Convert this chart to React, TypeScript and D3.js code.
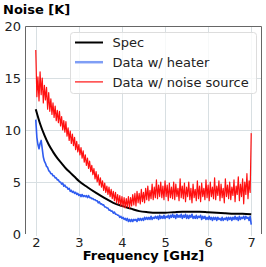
import React, { useRef, useEffect } from "react";
import * as d3 from "d3";

// sample grid of the measured traces (GHz)
const dataFreq = d3.range(0, 201).map((i) => +(2 + i * 0.025).toFixed(3));

// "Data w/ noise source" (red), K
const noiseSource = [
  17.7, 13.2, 15.1, 12.8, 15.6, 13.4, 15.0, 12.6, 14.3, 12.9,
  14.1, 12.0, 13.6, 11.8, 13.0, 11.5, 12.6, 11.2, 12.3, 10.9,
  11.9, 10.7, 11.8, 10.4, 11.3, 10.0, 10.9, 9.8, 10.8, 9.4,
  10.2, 9.0, 9.9, 8.7, 9.6, 8.5, 9.3, 8.1, 8.9, 7.9,
  8.6, 7.6, 8.3, 7.3, 8.0, 6.9, 7.6, 6.6, 7.3, 6.3,
  7.0, 6.0, 6.6, 5.7, 6.3, 5.3, 6.0, 5.0, 5.7, 4.7,
  5.4, 4.5, 5.1, 4.2, 4.9, 4.0, 4.6, 3.8, 4.5, 3.6,
  4.3, 3.4, 4.1, 3.2, 4.0, 3.0, 3.8, 2.9, 3.7, 2.7,
  3.6, 2.6, 3.5, 2.5, 3.4, 2.6, 3.6, 2.5, 3.5, 2.7,
  3.8, 2.8, 3.9, 2.7, 4.1, 3.0, 3.9, 2.9, 4.3, 3.1,
  4.0, 3.0, 4.4, 3.3, 4.6, 3.2, 4.2, 3.4, 4.8, 3.3,
  4.5, 3.5, 5.2, 3.4, 4.7, 3.6, 5.0, 3.5, 4.6, 3.3,
  5.1, 3.6, 4.7, 3.2, 4.9, 3.5, 4.5, 3.4, 5.0, 3.3,
  4.8, 3.6, 4.4, 3.2, 5.3, 3.5, 4.6, 3.4, 4.9, 3.1,
  4.5, 3.6, 5.0, 3.3, 4.4, 3.0, 4.8, 3.5, 4.3, 3.2,
  5.1, 3.4, 4.6, 3.1, 4.9, 3.6, 4.4, 3.3, 5.2, 3.5,
  4.7, 3.2, 5.0, 3.6, 4.5, 3.4, 5.4, 3.3, 4.6, 3.7,
  5.1, 3.2, 4.8, 3.5, 4.4, 3.0, 5.3, 3.6, 4.7, 3.4,
  5.0, 3.3, 4.5, 3.7, 5.2, 3.1, 4.6, 3.8, 5.5, 3.2,
  4.8, 3.6, 5.3, 2.9, 5.0, 3.8, 5.8, 3.4, 5.1, 4.0,
  9.7,
];

// "Data w/ heater" (blue), K
const heater = [
  11.0, 9.3, 8.6, 8.2, 8.7, 9.0, 8.2, 7.4, 7.0, 6.8,
  6.5, 6.4, 6.1, 6.0, 5.8, 5.8, 5.6, 5.6, 5.4, 5.4,
  5.2, 5.2, 5.0, 5.0, 4.8, 4.9, 4.6, 4.7, 4.5, 4.5,
  4.3, 4.4, 4.1, 4.2, 4.0, 4.1, 3.9, 4.0, 3.8, 3.9,
  3.7, 3.8, 3.6, 3.8, 3.6, 3.7, 3.6, 3.7, 3.5, 3.7,
  3.5, 3.5, 3.4, 3.4, 3.3, 3.3, 3.2, 3.2, 3.0, 3.1,
  2.9, 2.9, 2.8, 2.8, 2.6, 2.6, 2.5, 2.5, 2.3, 2.3,
  2.2, 2.2, 2.0, 2.1, 1.9, 1.9, 1.8, 1.8, 1.6, 1.7,
  1.5, 1.6, 1.4, 1.5, 1.3, 1.5, 1.2, 1.4, 1.2, 1.4,
  1.2, 1.4, 1.3, 1.4, 1.2, 1.5, 1.3, 1.5, 1.3, 1.5,
  1.3, 1.6, 1.4, 1.6, 1.4, 1.6, 1.4, 1.7, 1.4, 1.6,
  1.5, 1.7, 1.5, 1.7, 1.4, 1.8, 1.5, 1.7, 1.5, 1.8,
  1.5, 1.7, 1.6, 1.8, 1.5, 1.8, 1.6, 1.9, 1.6, 1.8,
  1.5, 1.9, 1.6, 1.8, 1.6, 1.9, 1.5, 1.8, 1.6, 1.9,
  1.5, 1.8, 1.5, 1.8, 1.6, 1.9, 1.5, 1.7, 1.5, 1.8,
  1.5, 1.7, 1.6, 1.8, 1.4, 1.7, 1.5, 1.7, 1.4, 1.6,
  1.4, 1.7, 1.4, 1.6, 1.3, 1.6, 1.4, 1.6, 1.3, 1.6,
  1.4, 1.5, 1.3, 1.6, 1.3, 1.5, 1.4, 1.6, 1.3, 1.6,
  1.4, 1.6, 1.3, 1.6, 1.4, 1.7, 1.4, 1.6, 1.3, 1.7,
  1.4, 1.6, 1.5, 1.7, 1.4, 1.7, 1.5, 1.6, 1.3, 1.7,
  0.9,
];

// "Spec" (black), K
const specFreq = [
  2.0, 2.1, 2.2, 2.3, 2.4, 2.5, 2.6, 2.7, 2.8, 2.9, 3.0, 3.2, 3.4, 3.6, 3.8,
  4.0, 4.2, 4.4, 4.6, 4.8, 5.0, 5.2, 5.4, 5.6, 5.8, 6.0, 6.2, 6.4, 6.6, 6.8, 7.0,
];
const spec = [
  12.0, 10.6, 9.5, 8.6, 7.9, 7.3, 6.8, 6.3, 5.9, 5.5, 5.1, 4.5, 3.95, 3.45, 3.0,
  2.7, 2.45, 2.2, 2.1, 2.05, 2.05, 2.1, 2.15, 2.15, 2.15, 2.1, 2.05, 2.0, 1.95, 1.95, 1.9,
];

const xTicks = [2, 3, 4, 5, 6, 7];
const yTicks = [0, 5, 10, 15, 20];
const legendLabels = ["Spec", "Data w/ heater", "Data w/ noise source"];

const W = 266;
const H = 267;
const FONT = "'DejaVu Sans', sans-serif";

export default function App() {
  const ref = useRef<SVGSVGElement | null>(null);

  useEffect(() => {
    const margin = { top: 26, right: 4, bottom: 33, left: 25 };
    const w = W - margin.left - margin.right;
    const h = H - margin.top - margin.bottom;

    const root = d3.select(ref.current);
    root.selectAll("*").remove();
    const svg = root
      .append("g")
      .attr("transform", `translate(${margin.left},${margin.top})`);

    const x = d3.scaleLinear().domain([1.75, 7.25]).range([0, w]);
    const y = d3.scaleLinear().domain([0, 20]).range([h, 0]);

    // grid
    const grid = svg.append("g").attr("stroke", "#d8dfe2").attr("stroke-width", 1);
    grid
      .selectAll("line.gx")
      .data(xTicks)
      .enter()
      .append("line")
      .attr("x1", (d) => Math.round(x(d)) + 0.5)
      .attr("x2", (d) => Math.round(x(d)) + 0.5)
      .attr("y1", 0)
      .attr("y2", h + 2);
    grid
      .selectAll("line.gy")
      .data(yTicks.slice(1, -1))
      .enter()
      .append("line")
      .attr("x1", 0)
      .attr("x2", w)
      .attr("y1", (d) => Math.round(y(d)) + 0.5)
      .attr("y2", (d) => Math.round(y(d)) + 0.5);

    // spines (left, top, right)
    svg
      .append("path")
      .attr("d", `M0.5,${h}V0.5H${w - 0.5}V${h}`)
      .attr("fill", "none")
      .attr("stroke", "#666")
      .attr("stroke-width", 1);

    svg
      .append("clipPath")
      .attr("id", "plot-clip")
      .append("rect")
      .attr("width", w)
      .attr("height", h);

    const plot = svg.append("g").attr("clip-path", "url(#plot-clip)");

    const dataLine = d3
      .line<number>()
      .x((_, i) => x(dataFreq[i]))
      .y((d) => y(d));

    plot
      .append("path")
      .datum(heater)
      .attr("fill", "none")
      .attr("stroke", "#2f5cf0")
      .attr("stroke-width", 1.6)
      .attr("stroke-linejoin", "round")
      .attr("d", dataLine);

    plot
      .append("path")
      .datum(spec)
      .attr("fill", "none")
      .attr("stroke", "#000")
      .attr("stroke-width", 2)
      .attr(
        "d",
        d3
          .line<number>()
          .curve(d3.curveMonotoneX)
          .x((_, i) => x(specFreq[i]))
          .y((d) => y(d)),
      );

    plot
      .append("path")
      .datum(noiseSource)
      .attr("fill", "none")
      .attr("stroke", "#ff1010")
      .attr("stroke-width", 1.2)
      .attr("stroke-linejoin", "round")
      .attr("d", dataLine);

    // tick labels
    svg
      .append("g")
      .attr("transform", `translate(0,${h})`)
      .call(
        d3
          .axisBottom(x)
          .tickValues(xTicks)
          .tickFormat(d3.format("d"))
          .tickSize(0)
          .tickPadding(4) as any,
      )
      .call((g) => g.select(".domain").remove())
      .selectAll("text")
      .attr("fill", "#222")
      .style("font-family", FONT)
      .style("font-size", "13px");
    svg
      .append("g")
      .call(
        d3
          .axisLeft(y)
          .tickValues(yTicks)
          .tickFormat(d3.format("d"))
          .tickSize(0)
          .tickPadding(4) as any,
      )
      .call((g) => g.select(".domain").remove())
      .selectAll("text")
      .attr("fill", "#222")
      .style("font-family", FONT)
      .style("font-size", "13px");

    // axis labels
    root
      .append("text")
      .attr("x", margin.left + w / 2)
      .attr("y", 260)
      .attr("text-anchor", "middle")
      .style("font-family", FONT)
      .style("font-size", "13px")
      .style("font-weight", "bold")
      .text("Frequency [GHz]");
    root
      .append("text")
      .attr("x", 3)
      .attr("y", 14)
      .style("font-family", FONT)
      .style("font-size", "13px")
      .style("font-weight", "bold")
      .text("Noise [K]");

    // legend
    const lg = root.append("g").attr("transform", "translate(70,32)");
    lg.append("rect")
      .attr("x", 0.5)
      .attr("y", 0.5)
      .attr("width", 186)
      .attr("height", 61)
      .attr("rx", 3)
      .attr("fill", "#fff")
      .attr("fill-opacity", 0.8)
      .attr("stroke", "#ddd");
    const legendStyle = [
      { color: "#000", width: 2 },
      { color: "#7f9ef5", width: 2.5 },
      { color: "#ff1010", width: 1.2 },
    ];
    legendLabels.forEach((label, i) => {
      const cy = 10.5 + i * 19.7;
      lg.append("line")
        .attr("x1", 5)
        .attr("x2", 33)
        .attr("y1", cy)
        .attr("y2", cy)
        .attr("stroke", legendStyle[i].color)
        .attr("stroke-width", legendStyle[i].width);
      lg.append("text")
        .attr("x", 42.5)
        .attr("y", cy + 4.7)
        .attr("fill", "#222")
        .style("font-family", FONT)
        .style("font-size", "13px")
        .text(label);
    });
  }, []);

  return (
    <svg
      ref={ref}
      width={W}
      height={H}
      style={{ position: "absolute", left: 0, top: 0, background: "#fff" }}
    />
  );
}
